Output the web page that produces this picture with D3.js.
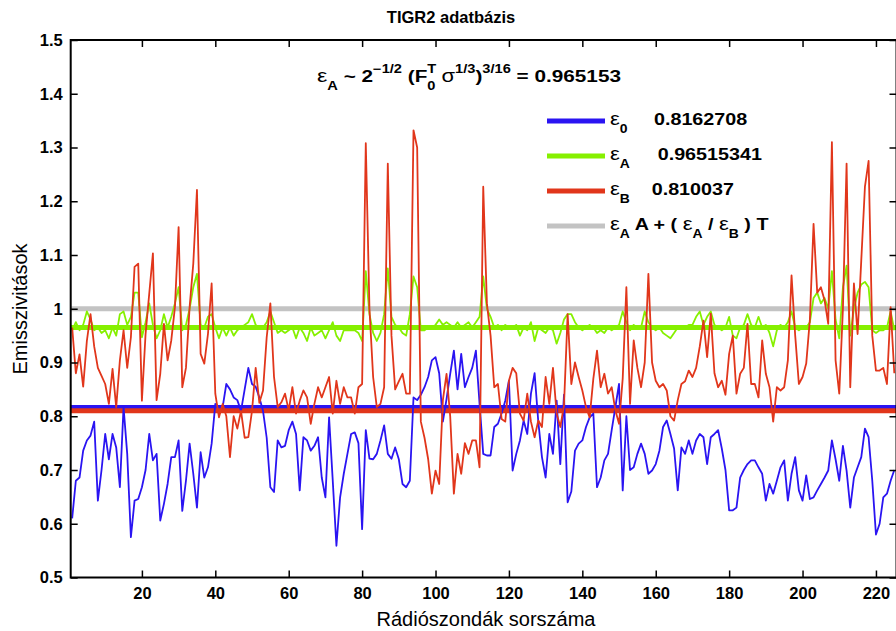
<!DOCTYPE html>
<html><head><meta charset="utf-8">
<script src="https://cdn.jsdelivr.net/npm/d3@7"></script>
<style>
html,body{margin:0;padding:0;background:#fff;}
svg{display:block;}
text{font-family:"Liberation Sans",Arial,Helvetica,sans-serif;fill:#000;}
</style></head>
<body>
<svg id="chart" width="896" height="631"></svg>
<script>
// ---------------- data ----------------
const eps0 = [0.61,0.68,0.686,0.736,0.755,0.764,0.79,0.643,0.70,0.767,0.72,0.767,0.742,0.668,0.817,0.73,0.575,0.643,0.646,0.668,
0.70,0.767,0.718,0.73,0.606,0.637,0.674,0.724,0.724,0.755,0.624,0.68,0.749,0.693,0.63,0.733,0.686,0.705,0.749,0.823,
0.817,0.817,0.86,0.85,0.835,0.83,0.81,0.85,0.89,0.86,0.855,0.835,0.81,0.76,0.668,0.659,0.755,0.742,0.745,0.774,
0.79,0.767,0.662,0.761,0.755,0.736,0.745,0.761,0.686,0.649,0.798,0.68,0.559,0.649,0.693,0.73,0.767,0.77,0.75,0.59,
0.774,0.721,0.72,0.73,0.755,0.783,0.73,0.721,0.742,0.72,0.674,0.668,0.68,0.835,0.83,0.84,0.854,0.873,0.904,0.91,
0.88,0.79,0.832,0.879,0.922,0.85,0.916,0.854,0.873,0.89,0.922,0.823,0.73,0.727,0.727,0.78,0.786,0.805,0.829,0.866,
0.699,0.73,0.755,0.792,0.767,0.842,0.88,0.79,0.724,0.686,0.767,0.73,0.829,0.711,0.84,0.64,0.66,0.736,0.749,0.755,
0.78,0.798,0.805,0.668,0.686,0.718,0.73,0.774,0.817,0.86,0.662,0.80,0.70,0.705,0.73,0.749,0.73,0.693,0.699,0.711,
0.736,0.78,0.792,0.767,0.74,0.662,0.742,0.73,0.755,0.73,0.755,0.767,0.761,0.711,0.761,0.767,0.774,0.74,0.70,0.625,
0.625,0.63,0.686,0.70,0.711,0.718,0.718,0.705,0.693,0.643,0.674,0.656,0.68,0.705,0.718,0.643,0.693,0.724,0.662,0.643,
0.69,0.646,0.649,0.662,0.674,0.686,0.699,0.755,0.72,0.68,0.745,0.699,0.63,0.686,0.705,0.724,0.777,0.761,0.68,0.58,
0.60,0.649,0.656,0.68,0.70];

const epsA = [0.96,0.975,0.96,0.97,0.995,0.98,0.96,0.965,0.955,0.96,0.945,0.965,0.95,0.99,0.995,0.97,0.985,1.03,1.03,0.947,
0.975,1.01,0.97,0.945,0.96,0.99,0.965,0.985,1.01,1.04,0.96,0.97,1.0,1.04,1.065,0.97,0.965,0.985,0.99,0.965,
0.945,0.965,0.95,0.965,0.95,0.96,0.965,0.97,0.975,0.99,0.97,0.965,0.965,0.975,0.995,0.975,0.955,0.96,0.955,0.96,
0.965,0.945,0.965,0.955,0.94,0.965,0.95,0.955,0.96,0.945,0.96,0.975,0.95,0.94,0.96,0.96,0.96,0.96,0.955,0.94,
1.07,0.99,0.955,0.94,0.955,0.99,1.075,0.985,0.97,0.965,0.955,0.95,0.99,1.06,1.04,0.96,0.96,0.965,0.965,0.97,
0.98,0.97,0.975,0.97,0.965,0.975,0.965,0.97,0.975,0.965,0.975,0.985,1.06,1.0,0.985,0.965,0.97,0.96,0.97,0.965,
0.965,0.97,0.95,0.965,0.96,0.975,0.94,0.965,0.96,0.955,0.965,0.96,0.935,0.955,0.98,0.99,0.99,0.975,0.965,0.96,
0.965,0.97,0.965,0.955,0.96,0.955,0.965,0.96,0.965,0.97,0.995,0.975,0.96,0.97,0.965,0.965,0.995,0.975,0.965,0.96,
0.965,0.955,0.95,0.945,0.955,0.965,0.965,0.965,0.97,0.97,0.985,0.995,0.97,0.985,0.995,0.97,0.965,0.96,0.965,0.985,
0.95,0.945,0.965,0.97,0.99,0.97,0.965,0.985,0.965,0.97,0.955,0.93,0.96,0.97,0.965,0.975,0.995,0.965,0.96,0.965,
0.965,0.975,1.02,1.03,1.01,1.02,1.0,1.07,0.98,0.945,1.04,1.08,0.95,1.0,1.03,1.045,1.05,1.04,0.96,0.955,
0.96,0.96,0.965,0.995,0.96];

const epsB = [0.965,0.88,0.915,0.855,0.94,0.99,0.93,0.89,0.875,0.86,0.823,0.888,0.817,0.904,0.96,0.89,0.947,1.078,1.084,0.829,
0.953,1.028,1.103,0.83,0.879,0.972,0.904,0.941,1.003,1.152,0.854,0.89,1.003,1.084,1.221,0.916,0.898,0.953,1.047,0.842,
0.798,0.823,0.80,0.724,0.80,0.777,0.81,0.76,0.761,0.81,0.89,0.825,0.848,0.947,1.01,0.873,0.817,0.826,0.842,0.811,
0.854,0.805,0.829,0.848,0.835,0.786,0.823,0.854,0.835,0.854,0.873,0.805,0.866,0.823,0.854,0.835,0.835,0.805,0.854,0.86,
1.308,1.0,0.873,0.817,0.823,0.854,1.27,0.95,0.85,0.865,0.879,0.842,0.842,1.332,1.30,0.79,0.76,0.72,0.656,0.699,
0.674,0.83,0.879,0.80,0.656,0.73,0.693,0.75,0.73,0.755,0.755,0.705,1.227,1.01,0.95,0.854,0.86,0.795,0.79,0.866,
0.89,0.88,0.805,0.792,0.842,0.79,0.761,0.792,0.78,0.873,0.823,0.89,0.805,0.78,0.82,0.99,0.86,0.9,0.873,0.848,
0.817,0.798,0.87,0.922,0.854,0.879,0.842,0.854,0.811,0.786,0.87,1.04,0.823,0.941,0.89,0.854,0.9,1.065,0.90,0.866,
0.854,0.86,0.848,0.80,0.792,0.83,0.86,0.865,0.885,0.873,0.89,0.93,0.978,0.91,0.991,0.88,0.854,0.866,0.84,0.916,
0.95,0.842,0.879,0.89,0.972,0.86,0.86,0.835,0.941,0.879,0.854,0.79,0.854,0.848,0.854,0.904,1.062,0.95,0.86,0.873,
0.898,0.98,1.158,1.03,1.04,1.016,0.972,1.31,0.904,0.842,1.0,1.27,0.854,1.047,0.953,1.09,1.227,1.275,0.95,0.885,
0.885,0.89,0.86,1.003,0.88];

const meanEps0 = 0.8162708;
const meanEpsA = 0.96515341;
const meanEpsB = 0.810037;
const refLevel = 1.0;           // ε_A A + (ε_A/ε_B) T
const formulaValue = "0.965153";

const xTickValues = [20,40,60,80,100,120,140,160,180,200,220];
const yTickValues = [0.5,0.6,0.7,0.8,0.9,1,1.1,1.2,1.3,1.4,1.5];
const yTickLabels = ["0.5","0.6","0.7","0.8","0.9","1","1.1","1.2","1.3","1.4","1.5"];

const titleText = "TIGR2 adatbázis";
const xLabelText = "Rádiószondák sorszáma";
const yLabelText = "Emisszivitások";

const colors = {e0:"#2a14f2", eA:"#86f000", eB:"#e1361b", ref:"#c3c3c3"};

// ---------------- layout ----------------
const svg = d3.select("#chart");
const L = 70.7, R = 896.5, T = 40, B = 577.5;
const x = d3.scaleLinear().domain([0.6, 225.6]).range([L, R]);
const y = d3.scaleLinear().domain([0.5, 1.5]).range([B, T]);
const idx = eps0.map((d,i)=>i+1);

svg.append("defs").append("clipPath").attr("id","clip")
  .append("rect").attr("x",L).attr("y",T).attr("width",R-L).attr("height",B-T);

const plot = svg.append("g").attr("clip-path","url(#clip)");

// mean lines (drawn first, thin series on top)
const means = [
  {v:refLevel, c:colors.ref},
  {v:meanEpsA, c:colors.eA},
  {v:meanEps0, c:colors.e0},
  {v:meanEpsB, c:colors.eB}
];
plot.selectAll("line.mean").data(means).join("line")
  .attr("class","mean")
  .attr("x1",L).attr("x2",R)
  .attr("y1",d=>y(d.v)).attr("y2",d=>y(d.v))
  .attr("stroke",d=>d.c).attr("stroke-width",5);

const line = d3.line().x((d,i)=>x(idx[i])).y(d=>y(d));
[[eps0,colors.e0],[epsA,colors.eA],[epsB,colors.eB]].forEach(([s,c])=>{
  plot.append("path").datum(s).attr("d",line)
    .attr("fill","none").attr("stroke",c).attr("stroke-width",1.8)
    .attr("stroke-linejoin","round");
});

// axes
const tickLen = 7;
const axL = svg.append("g").attr("transform",`translate(${L},0)`)
  .call(d3.axisLeft(y).tickValues(yTickValues).tickFormat((d,i)=>yTickLabels[i]).tickSizeInner(-tickLen).tickSizeOuter(0).tickPadding(8));
const axB = svg.append("g").attr("transform",`translate(0,${B})`)
  .call(d3.axisBottom(x).tickValues(xTickValues).tickSizeInner(-tickLen).tickSizeOuter(0).tickPadding(10));
const axR = svg.append("g").attr("transform",`translate(${R},0)`)
  .call(d3.axisRight(y).tickValues(yTickValues).tickFormat("").tickSizeInner(-tickLen).tickSizeOuter(0));
const axT = svg.append("g").attr("transform",`translate(0,${T})`)
  .call(d3.axisTop(x).tickValues(xTickValues).tickFormat("").tickSizeInner(-tickLen).tickSizeOuter(0));
[axL,axB,axR,axT].forEach(a=>{
  a.select(".domain").remove();
  a.selectAll(".tick line").attr("stroke","#000").attr("stroke-width",1.5);
  a.selectAll("text").attr("font-size",16.5).attr("font-weight","bold")
   .attr("font-family","'Liberation Sans',Arial,sans-serif").attr("fill","#000");
});
svg.append("rect").attr("x",L).attr("y",T).attr("width",R-L).attr("height",B-T)
  .attr("fill","none").attr("stroke","#000").attr("stroke-width",2);

// title & axis labels
svg.append("text").attr("x",451).attr("y",23).attr("text-anchor","middle")
  .attr("font-size",16.5).attr("font-weight","bold").text(titleText);
svg.append("text").attr("x",486).attr("y",626).attr("text-anchor","middle")
  .attr("font-size",20).text(xLabelText);
svg.append("text").attr("transform",`translate(27,309) rotate(-90)`).attr("text-anchor","middle")
  .attr("font-size",20).text(yLabelText);

// rich text helper: segments {t, m:'n'|'sup'|'sub', s:size, w:weight, dx}
function rich(parent, xp, yp, segs){
  const t = parent.append("text").attr("x",xp).attr("y",yp).style("white-space","pre");
  let cur = 0;
  segs.forEach(g=>{
    const target = g.m==="sup" ? -9 : g.m==="sub" ? 8 : 0;
    const ts = t.append("tspan").text(g.t)
      .attr("dy", target-cur)
      .attr("font-size", g.s || 17)
      .attr("font-weight", g.w || "bold");
    if (g.dx) ts.attr("dx", g.dx);
    cur = target;
  });
  return t;
}

// formula annotation (horizontally widened like the original rendering)
const fg = svg.append("g").attr("transform","translate(317,82) scale(1.22,1)");
rich(fg, 0, 0, [
  {t:"ε", s:19, w:"normal"},
  {t:"A", m:"sub", s:12},
  {t:" ~ 2"},
  {t:"−1/2", m:"sup", s:12},
  {t:" (F"},
  {t:"T", m:"sup", s:12},
  {t:"0", m:"sub", s:12, dx:-7.3},
  {t:" σ", s:18, w:"normal"},
  {t:"1/3", m:"sup", s:12},
  {t:")"},
  {t:"3/16", m:"sup", s:12},
  {t:" = " + formulaValue}
]);

// legend
const S = 1.16;
const legendRows = [
  {c:colors.e0, y:121, sub:"0", val:meanEps0.toFixed(7), vx:654},
  {c:colors.eA, y:156, sub:"A", val:meanEpsA.toFixed(8), vx:657.7},
  {c:colors.eB, y:191, sub:"B", val:meanEpsB.toFixed(6), vx:651.7}
];
legendRows.forEach(r=>{
  svg.append("line").attr("x1",547).attr("x2",605).attr("y1",r.y).attr("y2",r.y)
    .attr("stroke",r.c).attr("stroke-width",5);
  const g = svg.append("g").attr("transform",`translate(610,${r.y+3.5}) scale(${S},1)`);
  rich(g, 0, 0, [{t:"ε",s:19,w:"normal"},{t:r.sub,m:"sub",s:12}]);
  g.append("text").attr("x",(r.vx-610)/S).attr("y",0).attr("font-size",17).attr("font-weight","bold").text(r.val);
});
svg.append("line").attr("x1",547).attr("x2",605).attr("y1",226).attr("y2",226)
  .attr("stroke",colors.ref).attr("stroke-width",5);
const g4 = svg.append("g").attr("transform",`translate(610,229.5) scale(${S},1)`);
rich(g4, 0, 0, [{t:"ε",s:19,w:"normal"},{t:"A",m:"sub",s:12},{t:" A + ( "},{t:"ε",s:19,w:"normal"},{t:"A",m:"sub",s:12},{t:" / "},{t:"ε",s:19,w:"normal"},{t:"B",m:"sub",s:12},{t:" ) T"}]);
</script>
</body></html>
